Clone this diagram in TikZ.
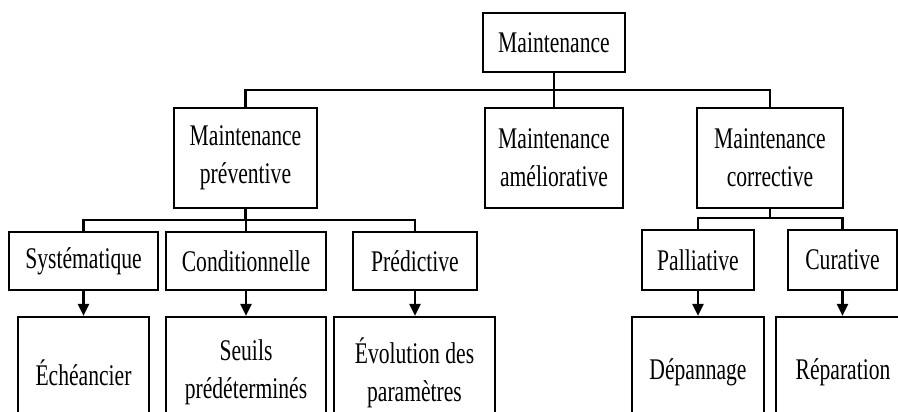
\documentclass[tikz,border=0pt]{standalone}
\usepackage{fontspec}
\setmainfont{Liberation Serif}[FakeStretch=0.72]
\usetikzlibrary{arrows.meta}
\begin{document}
\begin{tikzpicture}[x=1pt,y=-1pt,
  box/.style={draw,line width=2.2pt,inner sep=0pt,align=center,
    font=\fontsize{30}{38}\selectfont},
  link/.style={line width=2.2pt},
  arr/.style={line width=2.2pt,-{Triangle[width=11pt,length=12pt]}}]
\useasboundingbox (0,0) rectangle (898,412);
\clip (0,0) rectangle (898,412);
% top level
\node[box,minimum width=142pt,minimum height=59pt] (root) at (554,42.5) {Maintenance};
% second level
\node[box,minimum width=143pt,minimum height=100pt] (prev) at (245.5,158) {Maintenance\\préventive};
\node[box,minimum width=138pt,minimum height=100pt] (amel) at (554,158) {Maintenance\\améliorative};
\node[box,minimum width=146pt,minimum height=100pt] (corr) at (770,158) {Maintenance\\corrective};
% third level
\node[box,minimum width=149pt,minimum height=58pt] (sys) at (83.5,261) {Systématique};
\node[box,minimum width=160pt,minimum height=58pt] (cond) at (246,261) {Conditionnelle};
\node[box,minimum width=124pt,minimum height=58pt] (pred) at (415,261) {Prédictive};
\node[box,minimum width=112pt,minimum height=60pt] (pall) at (698,260) {Palliative};
\node[box,minimum width=109pt,minimum height=60pt] (cur) at (842.5,260) {Curative};
% fourth level
\node[box,minimum width=131pt,minimum height=111pt] (ech) at (83.5,372.5) {Échéancier};
\node[box,minimum width=160pt,minimum height=111pt] (seu) at (246,372.5) {Seuils\\prédéterminés};
\node[box,minimum width=161pt,minimum height=111pt] (evo) at (414.5,372.5) {Évolution des\\paramètres};
\node[box,minimum width=132pt,minimum height=111pt] (dep) at (698,372.5) {Dépannage};
\node[box,minimum width=134pt,minimum height=111pt] (rep) at (843,372.5) {Réparation};
% bus levels
\coordinate (busA) at (0,90);
\coordinate (busB) at (0,220);
\coordinate (busC) at (0,218);
% tree connectors
\draw[link] (root.south) -- (amel.north);
\draw[link] (prev.north) -- (prev.north |- busA) -| (corr.north);
\draw[link] (prev.south) -- (prev.south |- busB);
\draw[link] (sys.north) -- (sys.north |- busB) -| (pred.north);
\draw[link] (cond.north) -- (cond.north |- busB);
\draw[link] (corr.south) -- (corr.south |- busC);
\draw[link] (pall.north) -- (pall.north |- busC) -| (cur.north);
% arrows to the methods
\draw[arr] (sys.south) -- (ech.north);
\draw[arr] (cond.south) -- (seu.north);
\draw[arr] (pred.south) -- (pred.south |- evo.north);
\draw[arr] (pall.south) -- (dep.north);
\draw[arr] (cur.south) -- (cur.south |- rep.north);
\end{tikzpicture}
\end{document}
